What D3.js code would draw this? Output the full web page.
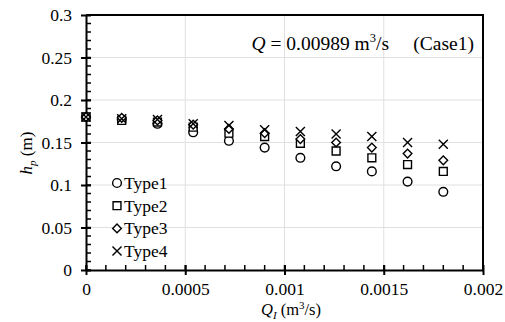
<!DOCTYPE html>
<html>
<head>
<meta charset="utf-8">
<script src="https://cdn.jsdelivr.net/npm/d3@7"></script>
<style>
  body { margin: 0; background: #fff; }
  svg text { font-family: "Liberation Serif", "Times New Roman", serif; fill: #000; }
</style>
</head>
<body>
<svg id="chart" width="505" height="322"></svg>
<script>
// inflow discharge Q_I (m3/s)
const qI = [0, 0.00018, 0.00036, 0.00054, 0.00072, 0.0009, 0.00108, 0.00126, 0.00144, 0.00162, 0.0018];
// pressure head h_p (m) for each type
const type1 = [0.180, 0.177, 0.172, 0.162, 0.152, 0.144, 0.132, 0.122, 0.116, 0.104, 0.092];
const type2 = [0.180, 0.176, 0.174, 0.168, 0.161, 0.157, 0.149, 0.140, 0.132, 0.124, 0.116];
const type3 = [0.180, 0.179, 0.176, 0.171, 0.166, 0.161, 0.154, 0.150, 0.144, 0.137, 0.129];
const type4 = [0.180, 0.178, 0.177, 0.172, 0.170, 0.165, 0.163, 0.160, 0.157, 0.150, 0.148];
const seriesNames = ["Type1", "Type2", "Type3", "Type4"];
const xTicks = [0, 0.0005, 0.001, 0.0015, 0.002];
const yTicks = [0, 0.05, 0.1, 0.15, 0.2, 0.25, 0.3];

const svg = d3.select("#chart");
const pl = 86, pr = 483, pt = 15, pb = 270;

const x = d3.scaleLinear().domain([0, 0.002]).range([pl, pr]);
const y = d3.scaleLinear().domain([0, 0.3]).range([pb, pt]);

// grid
svg.append("g").selectAll("line")
  .data(yTicks.filter(d => d > 0 && d < 0.3))
  .enter().append("line")
  .attr("x1", pl).attr("x2", pr)
  .attr("y1", d => y(d)).attr("y2", d => y(d))
  .attr("stroke", "#e0e0e0").attr("stroke-width", 1);
svg.append("g").selectAll("line")
  .data(xTicks.filter(d => d > 0 && d < 0.002))
  .enter().append("line")
  .attr("y1", pt).attr("y2", pb)
  .attr("x1", d => x(d)).attr("x2", d => x(d))
  .attr("stroke", "#e0e0e0").attr("stroke-width", 1);

// frame (top + right)
svg.append("path")
  .attr("d", `M${pl},${pt}H${pr}V${pb}`)
  .attr("fill", "none").attr("stroke", "#000").attr("stroke-width", 2);

// y axis: major ticks cross the axis, minor ticks inside
const yMinor = d3.range(0, 0.3001, 0.01);
svg.append("g").selectAll("line")
  .data(yMinor)
  .enter().append("line")
  .attr("x1", pl).attr("x2", pl + 5)
  .attr("y1", d => y(d)).attr("y2", d => y(d))
  .attr("stroke", "#000").attr("stroke-width", 1.5);

const yAxis = svg.append("g")
  .attr("transform", `translate(${pl},0)`)
  .call(d3.axisLeft(y).tickValues(yTicks).tickFormat(d3.format("")).tickSizeInner(5).tickSizeOuter(0).tickPadding(9));
yAxis.attr("font-family", null);
yAxis.select(".domain").attr("stroke-width", 2);
yAxis.selectAll(".tick line").attr("stroke-width", 2).attr("x1", 5).attr("x2", -5);
yAxis.selectAll(".tick text").attr("font-size", 17.5);

// x axis
const xMinor = d3.range(0, 0.00201, 0.0001);
svg.append("g").selectAll("line")
  .data(xMinor)
  .enter().append("line")
  .attr("y1", pb).attr("y2", pb - 5)
  .attr("x1", d => x(d)).attr("x2", d => x(d))
  .attr("stroke", "#000").attr("stroke-width", 1.5);

const xAxis = svg.append("g")
  .attr("transform", `translate(0,${pb})`)
  .call(d3.axisBottom(x).tickValues(xTicks).tickFormat(d => d === 0 ? "0" : String(d)).tickSizeInner(5).tickSizeOuter(0).tickPadding(8));
xAxis.attr("font-family", null);
xAxis.select(".domain").attr("stroke-width", 2);
xAxis.selectAll(".tick line").attr("stroke-width", 2).attr("y1", -5).attr("y2", 5);
xAxis.selectAll(".tick text").attr("font-size", 17.5);

// markers
const sym = {
  Type1: d3.symbol().type(d3.symbolCircle).size(60),
  Type2: d3.symbol().type(d3.symbolSquare).size(62),
  Type3: d3.symbol().type(d3.symbolDiamond2).size(48),
  Type4: d3.symbol().type(d3.symbolTimes).size(55)
};
const allSeries = [type1, type2, type3, type4];

allSeries.forEach((vals, si) => {
  const name = seriesNames[si];
  svg.append("g").selectAll("path")
    .data(vals.map((v, i) => [qI[i], v]))
    .enter().append("path")
    .attr("d", sym[name])
    .attr("transform", d => `translate(${x(d[0])},${y(d[1])})`)
    .attr("fill", name === "Type4" ? "none" : "#fff")
    .attr("stroke", "#000")
    .attr("stroke-width", 1.4);
});

// legend
const legend = svg.append("g");
seriesNames.forEach((name, i) => {
  const ly = 183 + i * 22.7;
  legend.append("path")
    .attr("d", sym[name])
    .attr("transform", `translate(117,${ly})`)
    .attr("fill", name === "Type4" ? "none" : "#fff")
    .attr("stroke", "#000")
    .attr("stroke-width", 1.4);
  legend.append("text")
    .attr("x", 124).attr("y", ly + 6)
    .attr("font-size", 17.5)
    .text(name);
});

// annotation
const ann = svg.append("text")
  .attr("x", 474).attr("y", 50)
  .attr("text-anchor", "end")
  .attr("font-size", 19.5);
ann.append("tspan").attr("font-style", "italic").text("Q");
ann.append("tspan").text(" = 0.00989 m");
ann.append("tspan").attr("font-size", 12.5).attr("dy", -8).text("3");
ann.append("tspan").attr("dy", 8).text("/s\u00a0\u00a0\u00a0\u00a0\u00a0(Case1)");

// axis titles
const xt = svg.append("text")
  .attr("x", 291).attr("y", 315)
  .attr("text-anchor", "middle")
  .attr("font-size", 16.5);
xt.append("tspan").attr("font-style", "italic").text("Q");
xt.append("tspan").attr("font-style", "italic").attr("font-size", 11).attr("dy", 4).text("I");
xt.append("tspan").attr("dy", -4).text(" (m");
xt.append("tspan").attr("font-size", 11).attr("dy", -6).text("3");
xt.append("tspan").attr("dy", 6).text("/s)");

const yt = svg.append("text")
  .attr("transform", "translate(32,153) rotate(-90)")
  .attr("text-anchor", "middle")
  .attr("font-size", 17);
yt.append("tspan").attr("font-style", "italic").text("h");
yt.append("tspan").attr("font-style", "italic").attr("font-size", 11).attr("dy", 4).text("p");
yt.append("tspan").attr("dy", -4).text(" (m)");
</script>
</body>
</html>
